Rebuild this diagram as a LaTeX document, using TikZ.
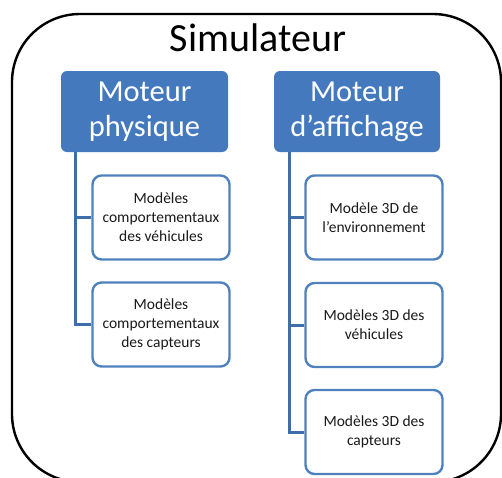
\documentclass[tikz,border=0pt]{standalone}
\usepackage{fontspec}
\setmainfont{Carlito}
\definecolor{boxblue}{HTML}{4479BE}
\definecolor{edgeblue}{HTML}{4F81BD}
\definecolor{linkblue}{HTML}{3D6EA8}
\definecolor{txt}{HTML}{1A1A1A}
\begin{document}
\begin{tikzpicture}[x=1pt,y=-1pt,
  parent/.style={rectangle,rounded corners=6pt,fill=boxblue,draw=none,text=white,
    minimum width=167pt,minimum height=81pt,inner sep=0pt,align=center,
    font=\fontsize{30.5}{35}\selectfont},
  child/.style={rectangle,rounded corners=9pt,fill=white,draw=edgeblue,line width=2.4pt,
    text=txt,minimum width=137pt,minimum height=84pt,inner sep=0pt,align=center,
    font=\fontsize{15.5}{19}\selectfont},
  conn/.style={draw=linkblue,line width=3pt}]
\useasboundingbox (0,0) rectangle (502,477);
\clip (0,0) rectangle (502,477);
\draw[line width=2.4pt,rounded corners=68pt] (12,14) rectangle (501,482);
\node[font=\fontsize{40}{44}\selectfont,text=black] (title) at (258,38) {Simulateur};
\node[parent] (p1) at (144.5,111.5) {Moteur\\physique};
\node[parent,minimum width=166pt] (p2) at (357,111.5) {Moteur\\d’affichage};
\node[child] (c1) at (161,217.5) {Modèles\\comportementaux\\des véhicules};
\node[child] (c2) at (161,324.5) {Modèles\\comportementaux\\des capteurs};
\node[child] (d1) at (374,217.5) {Modèle 3D de\\l’environnement};
\node[child] (d2) at (374,325) {Modèles 3D des\\véhicules};
\node[child] (d3) at (374,432) {Modèles 3D des\\capteurs};
\coordinate (a1) at ([xshift=15pt]p1.south west);
\coordinate (a2) at ([xshift=16pt]p2.south west);
\draw[conn] (a1) |- (c1.west);
\draw[conn] (a1) |- (c2.west);
\draw[conn] (a2) |- (d1.west);
\draw[conn] (a2) |- (d2.west);
\draw[conn] (a2) |- (d3.west);
\end{tikzpicture}
\end{document}
